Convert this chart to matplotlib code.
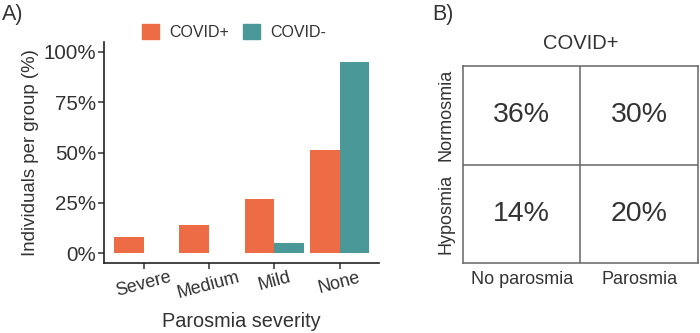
import matplotlib
matplotlib.use("Agg")
import matplotlib.pyplot as plt
from matplotlib.patches import Patch
import numpy as np

plt.rcParams['font.family'] = ['Liberation Sans', 'DejaVu Sans']

# panel A data
severity = ["Severe", "Medium", "Mild", "None"]
covid_pos = [8, 14, 27, 51]
covid_neg = [0, 0, 5, 95]
yticks = [0, 25, 50, 75, 100]

# panel B data
col_labels = ["No parosmia", "Parosmia"]
row_labels = ["Hyposmia", "Normosmia"]
cell_pct = [[14, 20],   # hyposmia row
            [36, 30]]   # normosmia row

orange = "#EE6C45"
teal = "#4A9897"
txt = "#333333"

fig = plt.figure(figsize=(7, 3.33), dpi=100)

#################################
# Panel A - grouped bars
#################################
ax = fig.add_axes([0.149, 0.209, 0.392, 0.666])
x = np.arange(1, len(severity) + 1)
w = 0.45
ax.bar(x - w / 2, covid_pos, width=w, color=orange)
ax.bar(x + w / 2, covid_neg, width=w, color=teal)
ax.set_xlim(0.4, 4.6)
ax.set_ylim(-5, 105)
ax.set_yticks(yticks)
ax.set_yticklabels(["%d%%" % v for v in yticks], fontsize=14.8, color=txt)
ax.set_xticks(x)
ax.set_xticklabels(severity, fontsize=13, color=txt, rotation=15)
for s in ["top", "right"]:
    ax.spines[s].set_visible(False)
for s in ["left", "bottom"]:
    ax.spines[s].set_linewidth(1.2)
    ax.spines[s].set_color("#222222")
ax.tick_params(direction="out", length=4, width=1.1, color="#333333", pad=2)
ax.tick_params(axis="x", pad=0)
ax.set_xlabel("Parosmia severity", fontsize=14.3, color=txt, labelpad=7)
ax.set_ylabel("Individuals per group (%)", fontsize=13.4, color=txt, labelpad=3)

handles = [Patch(color=orange, label="COVID+"), Patch(color=teal, label="COVID-")]
fig.legend(handles=handles, loc="center", bbox_to_anchor=(0.334, 0.905), ncol=2,
           frameon=False, fontsize=11.5, handlelength=1.1, handleheight=1.1,
           columnspacing=0.9, handletextpad=0.6, labelcolor=txt)

fig.text(0.003, 0.957, "A)", fontsize=15.5, color=txt, va="center")

#################################
# Panel B - 2x2 table
#################################
bx = fig.add_axes([0.6614, 0.21, 0.3356, 0.592])
bx.set_xlim(0, 2)
bx.set_ylim(0, 2)
grid_col = "#666666"
bx.axhline(1, color=grid_col, lw=1.1)
bx.axvline(1, color=grid_col, lw=1.1)
for s in bx.spines.values():
    s.set_color(grid_col)
    s.set_linewidth(1.1)
for r in range(2):
    for c in range(2):
        bx.text(c + 0.5, r + 0.5, "%d%%" % cell_pct[r][c], fontsize=20.5,
                color=txt, ha="center", va="center")
bx.set_xticks([0.5, 1.5])
bx.set_xticklabels(col_labels, fontsize=13, color=txt)
bx.set_yticks([0.5, 1.5])
bx.set_yticklabels(row_labels, fontsize=13, color=txt, rotation=90, va="center")
bx.tick_params(length=0, pad=6)
bx.set_title("COVID+", fontsize=14.5, color=txt, pad=12)

fig.text(0.618, 0.957, "B)", fontsize=15.5, color=txt, va="center")

fig.savefig("out.png", dpi=100, facecolor="white")
